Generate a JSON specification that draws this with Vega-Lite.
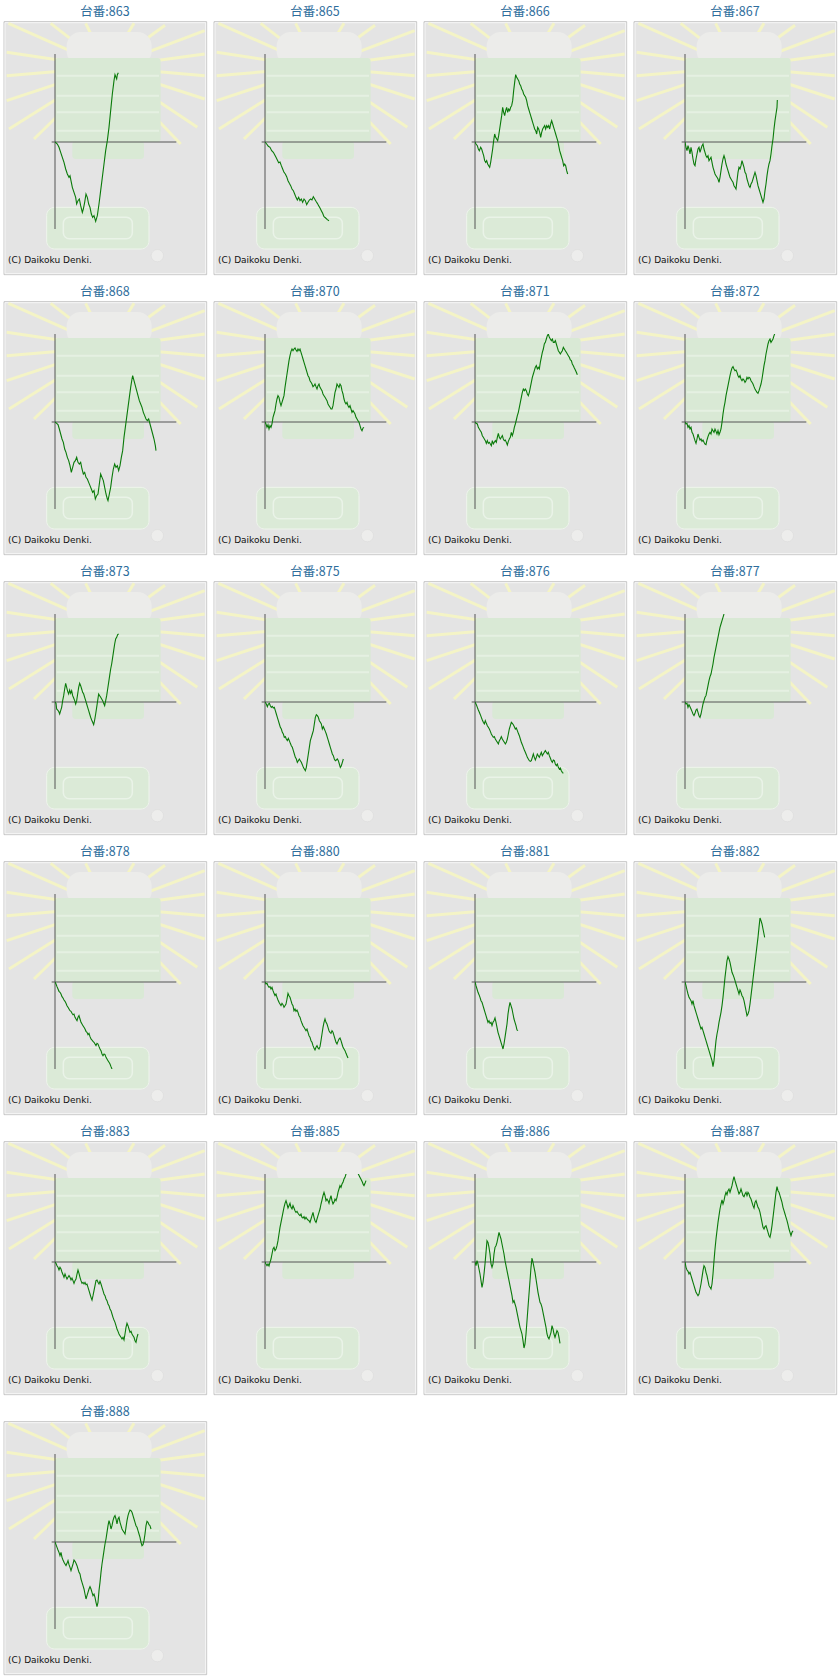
{
"$schema":"https://vega.github.io/schema/vega-lite/v6.json",
"padding":{"left":3,"top":5,"right":0,"bottom":0},
"background":"white",
"bounds":"flush",
"spacing":{"column":89,"row":105},
"columns":4,
"data":{"values":[
{"m":"863","x":0,"y":0},{"m":"863","x":7,"y":-6},{"m":"863","x":12,"y":-16},{"m":"863","x":17,"y":-31},{"m":"863","x":22,"y":-46},{"m":"863","x":27,"y":-61},{"m":"863","x":32,"y":-81},{"m":"863","x":37,"y":-96},{"m":"863","x":42,"y":-106},{"m":"863","x":45,"y":-101},{"m":"863","x":49,"y":-121},{"m":"863","x":52,"y":-136},{"m":"863","x":57,"y":-151},{"m":"863","x":62,"y":-166},{"m":"863","x":65,"y":-186},{"m":"863","x":69,"y":-176},{"m":"863","x":73,"y":-171},{"m":"863","x":77,"y":-191},{"m":"863","x":82,"y":-211},{"m":"863","x":85,"y":-201},{"m":"863","x":89,"y":-181},{"m":"863","x":93,"y":-156},{"m":"863","x":97,"y":-166},{"m":"863","x":101,"y":-186},{"m":"863","x":105,"y":-196},{"m":"863","x":109,"y":-216},{"m":"863","x":113,"y":-226},{"m":"863","x":117,"y":-221},{"m":"863","x":122,"y":-238},{"m":"863","x":127,"y":-221},{"m":"863","x":132,"y":-186},{"m":"863","x":137,"y":-146},{"m":"863","x":142,"y":-106},{"m":"863","x":147,"y":-66},{"m":"863","x":152,"y":-26},{"m":"863","x":157,"y":4},{"m":"863","x":162,"y":44},{"m":"863","x":167,"y":94},{"m":"863","x":172,"y":144},{"m":"863","x":177,"y":184},{"m":"863","x":180,"y":202},{"m":"863","x":183,"y":194},{"m":"863","x":185,"y":189},{"m":"863","x":187,"y":202},{"m":"863","x":190,"y":208},
{"m":"865","x":0,"y":0},{"m":"865","x":5,"y":-6},{"m":"865","x":10,"y":-13},{"m":"865","x":15,"y":-16},{"m":"865","x":20,"y":-26},{"m":"865","x":25,"y":-31},{"m":"865","x":29,"y":-38},{"m":"865","x":33,"y":-46},{"m":"865","x":37,"y":-54},{"m":"865","x":41,"y":-62},{"m":"865","x":45,"y":-60},{"m":"865","x":49,"y":-71},{"m":"865","x":53,"y":-81},{"m":"865","x":57,"y":-91},{"m":"865","x":61,"y":-96},{"m":"865","x":65,"y":-104},{"m":"865","x":69,"y":-116},{"m":"865","x":73,"y":-124},{"m":"865","x":77,"y":-131},{"m":"865","x":81,"y":-141},{"m":"865","x":85,"y":-146},{"m":"865","x":89,"y":-156},{"m":"865","x":93,"y":-166},{"m":"865","x":97,"y":-174},{"m":"865","x":101,"y":-166},{"m":"865","x":105,"y":-176},{"m":"865","x":109,"y":-171},{"m":"865","x":113,"y":-181},{"m":"865","x":117,"y":-171},{"m":"865","x":121,"y":-176},{"m":"865","x":125,"y":-188},{"m":"865","x":129,"y":-181},{"m":"865","x":133,"y":-174},{"m":"865","x":137,"y":-171},{"m":"865","x":141,"y":-174},{"m":"865","x":145,"y":-164},{"m":"865","x":149,"y":-171},{"m":"865","x":153,"y":-178},{"m":"865","x":157,"y":-184},{"m":"865","x":161,"y":-191},{"m":"865","x":165,"y":-198},{"m":"865","x":169,"y":-206},{"m":"865","x":173,"y":-214},{"m":"865","x":177,"y":-224},{"m":"865","x":182,"y":-228},{"m":"865","x":187,"y":-233},{"m":"865","x":192,"y":-236},
{"m":"866","x":0,"y":0},{"m":"866","x":3,"y":-6},{"m":"866","x":7,"y":-11},{"m":"866","x":10,"y":-21},{"m":"866","x":13,"y":-26},{"m":"866","x":17,"y":-16},{"m":"866","x":20,"y":-21},{"m":"866","x":23,"y":-31},{"m":"866","x":26,"y":-41},{"m":"866","x":29,"y":-56},{"m":"866","x":32,"y":-61},{"m":"866","x":35,"y":-56},{"m":"866","x":38,"y":-66},{"m":"866","x":41,"y":-71},{"m":"866","x":44,"y":-76},{"m":"866","x":47,"y":-61},{"m":"866","x":50,"y":-41},{"m":"866","x":53,"y":-21},{"m":"866","x":56,"y":4},{"m":"866","x":59,"y":24},{"m":"866","x":62,"y":14},{"m":"866","x":65,"y":9},{"m":"866","x":68,"y":4},{"m":"866","x":71,"y":19},{"m":"866","x":74,"y":39},{"m":"866","x":77,"y":59},{"m":"866","x":80,"y":79},{"m":"866","x":83,"y":104},{"m":"866","x":86,"y":89},{"m":"866","x":89,"y":79},{"m":"866","x":92,"y":94},{"m":"866","x":95,"y":104},{"m":"866","x":98,"y":89},{"m":"866","x":101,"y":99},{"m":"866","x":104,"y":94},{"m":"866","x":107,"y":104},{"m":"866","x":110,"y":109},{"m":"866","x":113,"y":124},{"m":"866","x":116,"y":154},{"m":"866","x":119,"y":179},{"m":"866","x":122,"y":202},{"m":"866","x":125,"y":194},{"m":"866","x":128,"y":189},{"m":"866","x":131,"y":184},{"m":"866","x":134,"y":174},{"m":"866","x":137,"y":169},{"m":"866","x":140,"y":159},{"m":"866","x":143,"y":154},{"m":"866","x":146,"y":144},{"m":"866","x":149,"y":139},{"m":"866","x":152,"y":134},{"m":"866","x":155,"y":124},{"m":"866","x":158,"y":109},{"m":"866","x":161,"y":99},{"m":"866","x":164,"y":89},{"m":"866","x":167,"y":79},{"m":"866","x":170,"y":69},{"m":"866","x":173,"y":59},{"m":"866","x":176,"y":49},{"m":"866","x":179,"y":39},{"m":"866","x":182,"y":34},{"m":"866","x":185,"y":24},{"m":"866","x":188,"y":44},{"m":"866","x":191,"y":39},{"m":"866","x":194,"y":29},{"m":"866","x":197,"y":14},{"m":"866","x":200,"y":29},{"m":"866","x":203,"y":39},{"m":"866","x":206,"y":44},{"m":"866","x":209,"y":49},{"m":"866","x":212,"y":39},{"m":"866","x":215,"y":49},{"m":"866","x":218,"y":44},{"m":"866","x":221,"y":49},{"m":"866","x":224,"y":39},{"m":"866","x":227,"y":54},{"m":"866","x":230,"y":64},{"m":"866","x":233,"y":54},{"m":"866","x":236,"y":44},{"m":"866","x":239,"y":34},{"m":"866","x":242,"y":24},{"m":"866","x":245,"y":14},{"m":"866","x":248,"y":4},{"m":"866","x":251,"y":-11},{"m":"866","x":254,"y":-26},{"m":"866","x":257,"y":-36},{"m":"866","x":260,"y":-46},{"m":"866","x":263,"y":-56},{"m":"866","x":266,"y":-71},{"m":"866","x":269,"y":-66},{"m":"866","x":272,"y":-71},{"m":"866","x":275,"y":-86},{"m":"866","x":278,"y":-96},
{"m":"867","x":0,"y":0},{"m":"867","x":3,"y":-16},{"m":"867","x":6,"y":-26},{"m":"867","x":9,"y":-11},{"m":"867","x":12,"y":-21},{"m":"867","x":15,"y":-36},{"m":"867","x":18,"y":-16},{"m":"867","x":21,"y":-31},{"m":"867","x":24,"y":-51},{"m":"867","x":27,"y":-66},{"m":"867","x":30,"y":-71},{"m":"867","x":33,"y":-51},{"m":"867","x":36,"y":-36},{"m":"867","x":39,"y":-21},{"m":"867","x":42,"y":-16},{"m":"867","x":45,"y":-31},{"m":"867","x":48,"y":-21},{"m":"867","x":51,"y":-11},{"m":"867","x":54,"y":-6},{"m":"867","x":57,"y":-21},{"m":"867","x":60,"y":-31},{"m":"867","x":63,"y":-41},{"m":"867","x":66,"y":-46},{"m":"867","x":69,"y":-41},{"m":"867","x":72,"y":-56},{"m":"867","x":75,"y":-51},{"m":"867","x":78,"y":-46},{"m":"867","x":81,"y":-61},{"m":"867","x":84,"y":-76},{"m":"867","x":87,"y":-86},{"m":"867","x":90,"y":-96},{"m":"867","x":93,"y":-101},{"m":"867","x":96,"y":-106},{"m":"867","x":99,"y":-111},{"m":"867","x":102,"y":-121},{"m":"867","x":105,"y":-106},{"m":"867","x":108,"y":-86},{"m":"867","x":111,"y":-66},{"m":"867","x":114,"y":-51},{"m":"867","x":117,"y":-41},{"m":"867","x":120,"y":-51},{"m":"867","x":123,"y":-66},{"m":"867","x":126,"y":-76},{"m":"867","x":129,"y":-86},{"m":"867","x":132,"y":-96},{"m":"867","x":135,"y":-106},{"m":"867","x":138,"y":-111},{"m":"867","x":141,"y":-116},{"m":"867","x":144,"y":-121},{"m":"867","x":147,"y":-131},{"m":"867","x":150,"y":-136},{"m":"867","x":153,"y":-141},{"m":"867","x":156,"y":-116},{"m":"867","x":159,"y":-91},{"m":"867","x":162,"y":-76},{"m":"867","x":165,"y":-81},{"m":"867","x":168,"y":-71},{"m":"867","x":171,"y":-56},{"m":"867","x":174,"y":-66},{"m":"867","x":177,"y":-76},{"m":"867","x":180,"y":-91},{"m":"867","x":183,"y":-96},{"m":"867","x":186,"y":-111},{"m":"867","x":189,"y":-121},{"m":"867","x":192,"y":-131},{"m":"867","x":195,"y":-136},{"m":"867","x":198,"y":-126},{"m":"867","x":201,"y":-121},{"m":"867","x":204,"y":-111},{"m":"867","x":207,"y":-101},{"m":"867","x":210,"y":-91},{"m":"867","x":213,"y":-101},{"m":"867","x":216,"y":-116},{"m":"867","x":219,"y":-131},{"m":"867","x":222,"y":-141},{"m":"867","x":225,"y":-151},{"m":"867","x":228,"y":-161},{"m":"867","x":231,"y":-171},{"m":"867","x":234,"y":-181},{"m":"867","x":237,"y":-171},{"m":"867","x":240,"y":-146},{"m":"867","x":243,"y":-126},{"m":"867","x":246,"y":-101},{"m":"867","x":249,"y":-81},{"m":"867","x":252,"y":-66},{"m":"867","x":255,"y":-56},{"m":"867","x":258,"y":-36},{"m":"867","x":261,"y":-11},{"m":"867","x":264,"y":9},{"m":"867","x":267,"y":39},{"m":"867","x":270,"y":64},{"m":"867","x":273,"y":84},{"m":"867","x":276,"y":104},{"m":"867","x":277,"y":126},
{"m":"868","x":0,"y":0},{"m":"868","x":5,"y":-4},{"m":"868","x":9,"y":-8},{"m":"868","x":13,"y":-21},{"m":"868","x":17,"y":-36},{"m":"868","x":21,"y":-51},{"m":"868","x":25,"y":-61},{"m":"868","x":29,"y":-81},{"m":"868","x":33,"y":-91},{"m":"868","x":37,"y":-106},{"m":"868","x":41,"y":-116},{"m":"868","x":45,"y":-131},{"m":"868","x":49,"y":-151},{"m":"868","x":53,"y":-136},{"m":"868","x":57,"y":-121},{"m":"868","x":61,"y":-116},{"m":"868","x":65,"y":-106},{"m":"868","x":69,"y":-121},{"m":"868","x":73,"y":-126},{"m":"868","x":77,"y":-121},{"m":"868","x":81,"y":-141},{"m":"868","x":85,"y":-156},{"m":"868","x":89,"y":-151},{"m":"868","x":93,"y":-166},{"m":"868","x":97,"y":-171},{"m":"868","x":101,"y":-181},{"m":"868","x":105,"y":-191},{"m":"868","x":109,"y":-201},{"m":"868","x":113,"y":-211},{"m":"868","x":117,"y":-206},{"m":"868","x":121,"y":-231},{"m":"868","x":125,"y":-221},{"m":"868","x":129,"y":-216},{"m":"868","x":133,"y":-186},{"m":"868","x":137,"y":-156},{"m":"868","x":141,"y":-166},{"m":"868","x":145,"y":-176},{"m":"868","x":149,"y":-196},{"m":"868","x":153,"y":-216},{"m":"868","x":157,"y":-231},{"m":"868","x":159,"y":-236},{"m":"868","x":163,"y":-216},{"m":"868","x":167,"y":-196},{"m":"868","x":171,"y":-166},{"m":"868","x":175,"y":-141},{"m":"868","x":179,"y":-126},{"m":"868","x":183,"y":-136},{"m":"868","x":187,"y":-131},{"m":"868","x":191,"y":-146},{"m":"868","x":195,"y":-131},{"m":"868","x":199,"y":-106},{"m":"868","x":203,"y":-86},{"m":"868","x":207,"y":-46},{"m":"868","x":211,"y":-16},{"m":"868","x":215,"y":14},{"m":"868","x":219,"y":44},{"m":"868","x":223,"y":74},{"m":"868","x":227,"y":104},{"m":"868","x":231,"y":129},{"m":"868","x":233,"y":139},{"m":"868","x":237,"y":124},{"m":"868","x":241,"y":109},{"m":"868","x":245,"y":94},{"m":"868","x":249,"y":79},{"m":"868","x":253,"y":64},{"m":"868","x":257,"y":54},{"m":"868","x":261,"y":44},{"m":"868","x":265,"y":29},{"m":"868","x":269,"y":19},{"m":"868","x":273,"y":9},{"m":"868","x":277,"y":4},{"m":"868","x":281,"y":9},{"m":"868","x":285,"y":-6},{"m":"868","x":289,"y":-21},{"m":"868","x":293,"y":-36},{"m":"868","x":297,"y":-51},{"m":"868","x":301,"y":-71},{"m":"868","x":303,"y":-86},
{"m":"870","x":0,"y":0},{"m":"870","x":3,"y":-6},{"m":"870","x":6,"y":-16},{"m":"870","x":9,"y":-8},{"m":"870","x":12,"y":-21},{"m":"870","x":15,"y":-11},{"m":"870","x":18,"y":-16},{"m":"870","x":21,"y":-6},{"m":"870","x":24,"y":14},{"m":"870","x":27,"y":24},{"m":"870","x":30,"y":34},{"m":"870","x":33,"y":54},{"m":"870","x":36,"y":69},{"m":"870","x":39,"y":79},{"m":"870","x":42,"y":74},{"m":"870","x":45,"y":59},{"m":"870","x":48,"y":49},{"m":"870","x":51,"y":59},{"m":"870","x":54,"y":69},{"m":"870","x":57,"y":79},{"m":"870","x":60,"y":104},{"m":"870","x":63,"y":124},{"m":"870","x":66,"y":144},{"m":"870","x":69,"y":164},{"m":"870","x":72,"y":184},{"m":"870","x":75,"y":199},{"m":"870","x":78,"y":212},{"m":"870","x":81,"y":219},{"m":"870","x":84,"y":214},{"m":"870","x":87,"y":219},{"m":"870","x":90,"y":222},{"m":"870","x":93,"y":216},{"m":"870","x":96,"y":212},{"m":"870","x":99,"y":219},{"m":"870","x":102,"y":214},{"m":"870","x":105,"y":219},{"m":"870","x":108,"y":209},{"m":"870","x":111,"y":199},{"m":"870","x":114,"y":189},{"m":"870","x":117,"y":179},{"m":"870","x":120,"y":169},{"m":"870","x":123,"y":159},{"m":"870","x":126,"y":149},{"m":"870","x":129,"y":139},{"m":"870","x":132,"y":134},{"m":"870","x":135,"y":124},{"m":"870","x":138,"y":119},{"m":"870","x":141,"y":114},{"m":"870","x":144,"y":106},{"m":"870","x":147,"y":109},{"m":"870","x":150,"y":114},{"m":"870","x":153,"y":106},{"m":"870","x":156,"y":99},{"m":"870","x":159,"y":109},{"m":"870","x":162,"y":114},{"m":"870","x":165,"y":104},{"m":"870","x":168,"y":99},{"m":"870","x":171,"y":94},{"m":"870","x":174,"y":84},{"m":"870","x":177,"y":79},{"m":"870","x":180,"y":74},{"m":"870","x":183,"y":69},{"m":"870","x":186,"y":64},{"m":"870","x":189,"y":54},{"m":"870","x":192,"y":49},{"m":"870","x":195,"y":44},{"m":"870","x":198,"y":39},{"m":"870","x":201,"y":39},{"m":"870","x":204,"y":49},{"m":"870","x":207,"y":69},{"m":"870","x":210,"y":89},{"m":"870","x":213,"y":99},{"m":"870","x":216,"y":114},{"m":"870","x":219,"y":109},{"m":"870","x":222,"y":104},{"m":"870","x":225,"y":114},{"m":"870","x":228,"y":109},{"m":"870","x":231,"y":94},{"m":"870","x":234,"y":84},{"m":"870","x":237,"y":69},{"m":"870","x":240,"y":59},{"m":"870","x":243,"y":54},{"m":"870","x":246,"y":59},{"m":"870","x":249,"y":49},{"m":"870","x":252,"y":44},{"m":"870","x":255,"y":49},{"m":"870","x":258,"y":39},{"m":"870","x":261,"y":29},{"m":"870","x":264,"y":34},{"m":"870","x":267,"y":29},{"m":"870","x":270,"y":24},{"m":"870","x":273,"y":14},{"m":"870","x":276,"y":9},{"m":"870","x":279,"y":4},{"m":"870","x":282,"y":-1},{"m":"870","x":285,"y":-11},{"m":"870","x":288,"y":-21},{"m":"870","x":291,"y":-26},{"m":"870","x":294,"y":-18},{"m":"870","x":297,"y":-16},
{"m":"871","x":0,"y":0},{"m":"871","x":3,"y":-4},{"m":"871","x":7,"y":-6},{"m":"871","x":10,"y":-16},{"m":"871","x":13,"y":-21},{"m":"871","x":16,"y":-26},{"m":"871","x":19,"y":-31},{"m":"871","x":22,"y":-41},{"m":"871","x":25,"y":-46},{"m":"871","x":28,"y":-51},{"m":"871","x":31,"y":-56},{"m":"871","x":34,"y":-64},{"m":"871","x":37,"y":-56},{"m":"871","x":40,"y":-64},{"m":"871","x":43,"y":-61},{"m":"871","x":46,"y":-66},{"m":"871","x":49,"y":-71},{"m":"871","x":52,"y":-56},{"m":"871","x":55,"y":-66},{"m":"871","x":58,"y":-61},{"m":"871","x":61,"y":-56},{"m":"871","x":64,"y":-61},{"m":"871","x":67,"y":-46},{"m":"871","x":70,"y":-34},{"m":"871","x":73,"y":-46},{"m":"871","x":76,"y":-51},{"m":"871","x":79,"y":-46},{"m":"871","x":82,"y":-41},{"m":"871","x":85,"y":-51},{"m":"871","x":88,"y":-56},{"m":"871","x":91,"y":-54},{"m":"871","x":94,"y":-61},{"m":"871","x":97,"y":-69},{"m":"871","x":100,"y":-58},{"m":"871","x":103,"y":-51},{"m":"871","x":106,"y":-46},{"m":"871","x":109,"y":-31},{"m":"871","x":112,"y":-41},{"m":"871","x":115,"y":-31},{"m":"871","x":118,"y":-16},{"m":"871","x":121,"y":-6},{"m":"871","x":124,"y":6},{"m":"871","x":127,"y":19},{"m":"871","x":130,"y":29},{"m":"871","x":133,"y":44},{"m":"871","x":136,"y":59},{"m":"871","x":139,"y":74},{"m":"871","x":142,"y":89},{"m":"871","x":145,"y":99},{"m":"871","x":148,"y":94},{"m":"871","x":151,"y":99},{"m":"871","x":154,"y":94},{"m":"871","x":157,"y":84},{"m":"871","x":160,"y":79},{"m":"871","x":163,"y":89},{"m":"871","x":166,"y":104},{"m":"871","x":169,"y":119},{"m":"871","x":172,"y":134},{"m":"871","x":175,"y":144},{"m":"871","x":178,"y":154},{"m":"871","x":181,"y":164},{"m":"871","x":184,"y":169},{"m":"871","x":187,"y":159},{"m":"871","x":190,"y":164},{"m":"871","x":193,"y":159},{"m":"871","x":196,"y":179},{"m":"871","x":199,"y":194},{"m":"871","x":202,"y":209},{"m":"871","x":205,"y":219},{"m":"871","x":208,"y":234},{"m":"871","x":211,"y":239},{"m":"871","x":214,"y":249},{"m":"871","x":217,"y":259},{"m":"871","x":220,"y":264},{"m":"871","x":223,"y":254},{"m":"871","x":226,"y":249},{"m":"871","x":229,"y":244},{"m":"871","x":232,"y":249},{"m":"871","x":235,"y":239},{"m":"871","x":238,"y":239},{"m":"871","x":241,"y":244},{"m":"871","x":244,"y":234},{"m":"871","x":247,"y":224},{"m":"871","x":250,"y":214},{"m":"871","x":253,"y":209},{"m":"871","x":256,"y":204},{"m":"871","x":259,"y":209},{"m":"871","x":262,"y":214},{"m":"871","x":265,"y":224},{"m":"871","x":268,"y":219},{"m":"871","x":271,"y":214},{"m":"871","x":274,"y":209},{"m":"871","x":277,"y":204},{"m":"871","x":280,"y":199},{"m":"871","x":283,"y":194},{"m":"871","x":286,"y":186},{"m":"871","x":289,"y":184},{"m":"871","x":292,"y":174},{"m":"871","x":295,"y":169},{"m":"871","x":298,"y":162},{"m":"871","x":301,"y":156},{"m":"871","x":304,"y":149},{"m":"871","x":307,"y":142},
{"m":"872","x":0,"y":0},{"m":"872","x":3,"y":-6},{"m":"872","x":6,"y":-4},{"m":"872","x":9,"y":-16},{"m":"872","x":12,"y":-11},{"m":"872","x":15,"y":-21},{"m":"872","x":18,"y":-16},{"m":"872","x":21,"y":-31},{"m":"872","x":24,"y":-36},{"m":"872","x":27,"y":-46},{"m":"872","x":30,"y":-56},{"m":"872","x":33,"y":-64},{"m":"872","x":36,"y":-51},{"m":"872","x":39,"y":-36},{"m":"872","x":42,"y":-46},{"m":"872","x":45,"y":-54},{"m":"872","x":48,"y":-51},{"m":"872","x":51,"y":-58},{"m":"872","x":54,"y":-54},{"m":"872","x":57,"y":-61},{"m":"872","x":60,"y":-66},{"m":"872","x":63,"y":-68},{"m":"872","x":66,"y":-54},{"m":"872","x":69,"y":-44},{"m":"872","x":72,"y":-36},{"m":"872","x":75,"y":-31},{"m":"872","x":78,"y":-36},{"m":"872","x":81,"y":-21},{"m":"872","x":84,"y":-26},{"m":"872","x":87,"y":-31},{"m":"872","x":90,"y":-21},{"m":"872","x":93,"y":-28},{"m":"872","x":96,"y":-36},{"m":"872","x":99,"y":-26},{"m":"872","x":102,"y":-38},{"m":"872","x":105,"y":-31},{"m":"872","x":108,"y":-21},{"m":"872","x":111,"y":-1},{"m":"872","x":114,"y":24},{"m":"872","x":117,"y":44},{"m":"872","x":120,"y":59},{"m":"872","x":123,"y":79},{"m":"872","x":126,"y":94},{"m":"872","x":129,"y":109},{"m":"872","x":132,"y":124},{"m":"872","x":135,"y":139},{"m":"872","x":138,"y":152},{"m":"872","x":141,"y":162},{"m":"872","x":144,"y":166},{"m":"872","x":147,"y":159},{"m":"872","x":150,"y":154},{"m":"872","x":153,"y":156},{"m":"872","x":156,"y":149},{"m":"872","x":159,"y":139},{"m":"872","x":162,"y":134},{"m":"872","x":165,"y":139},{"m":"872","x":168,"y":129},{"m":"872","x":171,"y":124},{"m":"872","x":174,"y":129},{"m":"872","x":177,"y":126},{"m":"872","x":180,"y":119},{"m":"872","x":183,"y":124},{"m":"872","x":186,"y":134},{"m":"872","x":189,"y":129},{"m":"872","x":192,"y":134},{"m":"872","x":195,"y":132},{"m":"872","x":198,"y":124},{"m":"872","x":201,"y":119},{"m":"872","x":204,"y":114},{"m":"872","x":207,"y":106},{"m":"872","x":210,"y":99},{"m":"872","x":213,"y":94},{"m":"872","x":216,"y":89},{"m":"872","x":219,"y":86},{"m":"872","x":222,"y":94},{"m":"872","x":225,"y":104},{"m":"872","x":228,"y":114},{"m":"872","x":231,"y":129},{"m":"872","x":234,"y":149},{"m":"872","x":237,"y":169},{"m":"872","x":240,"y":184},{"m":"872","x":243,"y":204},{"m":"872","x":246,"y":219},{"m":"872","x":249,"y":234},{"m":"872","x":252,"y":244},{"m":"872","x":255,"y":249},{"m":"872","x":258,"y":239},{"m":"872","x":261,"y":244},{"m":"872","x":264,"y":249},{"m":"872","x":267,"y":259},{"m":"872","x":269,"y":264},
{"m":"873","x":0,"y":0},{"m":"873","x":3,"y":-4},{"m":"873","x":5,"y":-21},{"m":"873","x":8,"y":-24},{"m":"873","x":11,"y":-28},{"m":"873","x":14,"y":-36},{"m":"873","x":17,"y":-26},{"m":"873","x":20,"y":-16},{"m":"873","x":23,"y":4},{"m":"873","x":26,"y":19},{"m":"873","x":29,"y":39},{"m":"873","x":32,"y":56},{"m":"873","x":35,"y":44},{"m":"873","x":38,"y":32},{"m":"873","x":41,"y":24},{"m":"873","x":44,"y":36},{"m":"873","x":47,"y":26},{"m":"873","x":50,"y":34},{"m":"873","x":53,"y":19},{"m":"873","x":56,"y":12},{"m":"873","x":59,"y":4},{"m":"873","x":62,"y":-6},{"m":"873","x":65,"y":4},{"m":"873","x":68,"y":24},{"m":"873","x":71,"y":44},{"m":"873","x":74,"y":56},{"m":"873","x":77,"y":49},{"m":"873","x":80,"y":39},{"m":"873","x":83,"y":29},{"m":"873","x":86,"y":24},{"m":"873","x":89,"y":14},{"m":"873","x":92,"y":4},{"m":"873","x":95,"y":-6},{"m":"873","x":98,"y":-16},{"m":"873","x":101,"y":-26},{"m":"873","x":104,"y":-36},{"m":"873","x":107,"y":-46},{"m":"873","x":110,"y":-54},{"m":"873","x":113,"y":-61},{"m":"873","x":116,"y":-68},{"m":"873","x":119,"y":-54},{"m":"873","x":122,"y":-36},{"m":"873","x":125,"y":-16},{"m":"873","x":128,"y":4},{"m":"873","x":131,"y":24},{"m":"873","x":134,"y":19},{"m":"873","x":137,"y":14},{"m":"873","x":140,"y":9},{"m":"873","x":143,"y":4},{"m":"873","x":146,"y":-4},{"m":"873","x":149,"y":-11},{"m":"873","x":152,"y":4},{"m":"873","x":155,"y":19},{"m":"873","x":158,"y":39},{"m":"873","x":161,"y":59},{"m":"873","x":164,"y":79},{"m":"873","x":167,"y":99},{"m":"873","x":170,"y":114},{"m":"873","x":173,"y":134},{"m":"873","x":176,"y":154},{"m":"873","x":179,"y":174},{"m":"873","x":182,"y":189},{"m":"873","x":185,"y":194},{"m":"873","x":188,"y":202},{"m":"873","x":191,"y":204},
{"m":"875","x":0,"y":0},{"m":"875","x":4,"y":-6},{"m":"875","x":7,"y":-14},{"m":"875","x":10,"y":-6},{"m":"875","x":13,"y":-4},{"m":"875","x":16,"y":-11},{"m":"875","x":19,"y":-16},{"m":"875","x":22,"y":-13},{"m":"875","x":25,"y":-18},{"m":"875","x":28,"y":-16},{"m":"875","x":31,"y":-26},{"m":"875","x":34,"y":-36},{"m":"875","x":37,"y":-46},{"m":"875","x":40,"y":-56},{"m":"875","x":43,"y":-66},{"m":"875","x":46,"y":-76},{"m":"875","x":49,"y":-81},{"m":"875","x":52,"y":-91},{"m":"875","x":55,"y":-96},{"m":"875","x":58,"y":-106},{"m":"875","x":61,"y":-104},{"m":"875","x":64,"y":-111},{"m":"875","x":67,"y":-116},{"m":"875","x":70,"y":-109},{"m":"875","x":73,"y":-116},{"m":"875","x":76,"y":-124},{"m":"875","x":79,"y":-131},{"m":"875","x":82,"y":-136},{"m":"875","x":85,"y":-146},{"m":"875","x":88,"y":-156},{"m":"875","x":91,"y":-166},{"m":"875","x":94,"y":-171},{"m":"875","x":97,"y":-181},{"m":"875","x":100,"y":-176},{"m":"875","x":103,"y":-171},{"m":"875","x":106,"y":-176},{"m":"875","x":109,"y":-181},{"m":"875","x":112,"y":-188},{"m":"875","x":115,"y":-196},{"m":"875","x":118,"y":-201},{"m":"875","x":121,"y":-206},{"m":"875","x":124,"y":-196},{"m":"875","x":127,"y":-176},{"m":"875","x":130,"y":-156},{"m":"875","x":133,"y":-136},{"m":"875","x":136,"y":-116},{"m":"875","x":139,"y":-106},{"m":"875","x":142,"y":-96},{"m":"875","x":145,"y":-86},{"m":"875","x":148,"y":-66},{"m":"875","x":151,"y":-46},{"m":"875","x":154,"y":-38},{"m":"875","x":157,"y":-41},{"m":"875","x":160,"y":-46},{"m":"875","x":163,"y":-56},{"m":"875","x":166,"y":-61},{"m":"875","x":169,"y":-66},{"m":"875","x":172,"y":-81},{"m":"875","x":175,"y":-74},{"m":"875","x":178,"y":-81},{"m":"875","x":181,"y":-88},{"m":"875","x":184,"y":-96},{"m":"875","x":187,"y":-106},{"m":"875","x":190,"y":-116},{"m":"875","x":193,"y":-126},{"m":"875","x":196,"y":-136},{"m":"875","x":199,"y":-146},{"m":"875","x":202,"y":-156},{"m":"875","x":205,"y":-161},{"m":"875","x":208,"y":-171},{"m":"875","x":211,"y":-176},{"m":"875","x":214,"y":-174},{"m":"875","x":217,"y":-171},{"m":"875","x":220,"y":-176},{"m":"875","x":223,"y":-186},{"m":"875","x":226,"y":-196},{"m":"875","x":229,"y":-191},{"m":"875","x":232,"y":-181},{"m":"875","x":235,"y":-171},
{"m":"876","x":0,"y":0},{"m":"876","x":4,"y":-8},{"m":"876","x":7,"y":-16},{"m":"876","x":10,"y":-24},{"m":"876","x":13,"y":-31},{"m":"876","x":16,"y":-38},{"m":"876","x":19,"y":-46},{"m":"876","x":22,"y":-54},{"m":"876","x":25,"y":-61},{"m":"876","x":28,"y":-66},{"m":"876","x":31,"y":-56},{"m":"876","x":34,"y":-64},{"m":"876","x":37,"y":-71},{"m":"876","x":40,"y":-76},{"m":"876","x":43,"y":-81},{"m":"876","x":46,"y":-88},{"m":"876","x":49,"y":-96},{"m":"876","x":52,"y":-101},{"m":"876","x":55,"y":-106},{"m":"876","x":58,"y":-104},{"m":"876","x":61,"y":-111},{"m":"876","x":64,"y":-116},{"m":"876","x":67,"y":-121},{"m":"876","x":70,"y":-126},{"m":"876","x":73,"y":-116},{"m":"876","x":76,"y":-111},{"m":"876","x":79,"y":-104},{"m":"876","x":82,"y":-111},{"m":"876","x":85,"y":-116},{"m":"876","x":88,"y":-121},{"m":"876","x":91,"y":-126},{"m":"876","x":94,"y":-121},{"m":"876","x":97,"y":-111},{"m":"876","x":100,"y":-96},{"m":"876","x":103,"y":-81},{"m":"876","x":106,"y":-71},{"m":"876","x":109,"y":-61},{"m":"876","x":112,"y":-64},{"m":"876","x":115,"y":-68},{"m":"876","x":118,"y":-74},{"m":"876","x":121,"y":-81},{"m":"876","x":124,"y":-78},{"m":"876","x":127,"y":-86},{"m":"876","x":130,"y":-94},{"m":"876","x":133,"y":-101},{"m":"876","x":136,"y":-111},{"m":"876","x":139,"y":-121},{"m":"876","x":142,"y":-128},{"m":"876","x":145,"y":-136},{"m":"876","x":148,"y":-144},{"m":"876","x":151,"y":-151},{"m":"876","x":154,"y":-158},{"m":"876","x":157,"y":-166},{"m":"876","x":160,"y":-171},{"m":"876","x":163,"y":-176},{"m":"876","x":166,"y":-178},{"m":"876","x":169,"y":-176},{"m":"876","x":172,"y":-166},{"m":"876","x":175,"y":-156},{"m":"876","x":178,"y":-166},{"m":"876","x":181,"y":-174},{"m":"876","x":184,"y":-166},{"m":"876","x":187,"y":-156},{"m":"876","x":190,"y":-161},{"m":"876","x":193,"y":-166},{"m":"876","x":196,"y":-158},{"m":"876","x":199,"y":-151},{"m":"876","x":202,"y":-161},{"m":"876","x":205,"y":-156},{"m":"876","x":208,"y":-151},{"m":"876","x":211,"y":-146},{"m":"876","x":214,"y":-151},{"m":"876","x":217,"y":-156},{"m":"876","x":220,"y":-151},{"m":"876","x":223,"y":-161},{"m":"876","x":226,"y":-168},{"m":"876","x":229,"y":-176},{"m":"876","x":232,"y":-181},{"m":"876","x":235,"y":-174},{"m":"876","x":238,"y":-176},{"m":"876","x":241,"y":-186},{"m":"876","x":244,"y":-191},{"m":"876","x":247,"y":-186},{"m":"876","x":250,"y":-196},{"m":"876","x":253,"y":-201},{"m":"876","x":256,"y":-198},{"m":"876","x":259,"y":-206},{"m":"876","x":262,"y":-211},{"m":"876","x":265,"y":-214},
{"m":"877","x":0,"y":0},{"m":"877","x":3,"y":-6},{"m":"877","x":6,"y":-4},{"m":"877","x":9,"y":-16},{"m":"877","x":12,"y":-8},{"m":"877","x":15,"y":-14},{"m":"877","x":18,"y":-21},{"m":"877","x":21,"y":-28},{"m":"877","x":24,"y":-36},{"m":"877","x":27,"y":-41},{"m":"877","x":30,"y":-34},{"m":"877","x":33,"y":-24},{"m":"877","x":36,"y":-21},{"m":"877","x":39,"y":-31},{"m":"877","x":42,"y":-41},{"m":"877","x":45,"y":-46},{"m":"877","x":48,"y":-36},{"m":"877","x":51,"y":-21},{"m":"877","x":54,"y":-6},{"m":"877","x":57,"y":4},{"m":"877","x":60,"y":14},{"m":"877","x":63,"y":19},{"m":"877","x":66,"y":34},{"m":"877","x":69,"y":49},{"m":"877","x":72,"y":64},{"m":"877","x":75,"y":76},{"m":"877","x":78,"y":84},{"m":"877","x":81,"y":99},{"m":"877","x":84,"y":114},{"m":"877","x":87,"y":134},{"m":"877","x":90,"y":149},{"m":"877","x":93,"y":164},{"m":"877","x":96,"y":179},{"m":"877","x":99,"y":194},{"m":"877","x":102,"y":209},{"m":"877","x":105,"y":224},{"m":"877","x":108,"y":234},{"m":"877","x":111,"y":244},{"m":"877","x":114,"y":254},{"m":"877","x":117,"y":264},
{"m":"878","x":0,"y":0},{"m":"878","x":3,"y":-6},{"m":"878","x":6,"y":-14},{"m":"878","x":9,"y":-21},{"m":"878","x":12,"y":-28},{"m":"878","x":15,"y":-31},{"m":"878","x":18,"y":-36},{"m":"878","x":21,"y":-44},{"m":"878","x":24,"y":-48},{"m":"878","x":27,"y":-54},{"m":"878","x":30,"y":-58},{"m":"878","x":33,"y":-64},{"m":"878","x":36,"y":-71},{"m":"878","x":39,"y":-76},{"m":"878","x":42,"y":-81},{"m":"878","x":45,"y":-86},{"m":"878","x":48,"y":-88},{"m":"878","x":51,"y":-94},{"m":"878","x":54,"y":-98},{"m":"878","x":57,"y":-96},{"m":"878","x":60,"y":-106},{"m":"878","x":63,"y":-111},{"m":"878","x":66,"y":-116},{"m":"878","x":69,"y":-106},{"m":"878","x":72,"y":-101},{"m":"878","x":75,"y":-111},{"m":"878","x":78,"y":-121},{"m":"878","x":81,"y":-126},{"m":"878","x":84,"y":-131},{"m":"878","x":87,"y":-136},{"m":"878","x":90,"y":-141},{"m":"878","x":93,"y":-148},{"m":"878","x":96,"y":-151},{"m":"878","x":99,"y":-158},{"m":"878","x":102,"y":-154},{"m":"878","x":105,"y":-164},{"m":"878","x":108,"y":-171},{"m":"878","x":111,"y":-174},{"m":"878","x":114,"y":-178},{"m":"878","x":117,"y":-181},{"m":"878","x":120,"y":-186},{"m":"878","x":123,"y":-191},{"m":"878","x":126,"y":-184},{"m":"878","x":129,"y":-186},{"m":"878","x":132,"y":-194},{"m":"878","x":135,"y":-201},{"m":"878","x":138,"y":-206},{"m":"878","x":141,"y":-216},{"m":"878","x":144,"y":-221},{"m":"878","x":147,"y":-216},{"m":"878","x":150,"y":-218},{"m":"878","x":153,"y":-226},{"m":"878","x":156,"y":-231},{"m":"878","x":159,"y":-236},{"m":"878","x":162,"y":-241},{"m":"878","x":165,"y":-246},{"m":"878","x":168,"y":-254},{"m":"878","x":171,"y":-261},
{"m":"880","x":0,"y":0},{"m":"880","x":3,"y":-6},{"m":"880","x":6,"y":-4},{"m":"880","x":9,"y":-11},{"m":"880","x":12,"y":-16},{"m":"880","x":15,"y":-14},{"m":"880","x":18,"y":-21},{"m":"880","x":21,"y":-16},{"m":"880","x":24,"y":-26},{"m":"880","x":27,"y":-34},{"m":"880","x":30,"y":-41},{"m":"880","x":33,"y":-36},{"m":"880","x":36,"y":-46},{"m":"880","x":39,"y":-54},{"m":"880","x":42,"y":-61},{"m":"880","x":45,"y":-66},{"m":"880","x":48,"y":-71},{"m":"880","x":51,"y":-64},{"m":"880","x":54,"y":-68},{"m":"880","x":57,"y":-76},{"m":"880","x":60,"y":-71},{"m":"880","x":63,"y":-66},{"m":"880","x":66,"y":-51},{"m":"880","x":69,"y":-34},{"m":"880","x":72,"y":-41},{"m":"880","x":75,"y":-46},{"m":"880","x":78,"y":-56},{"m":"880","x":81,"y":-66},{"m":"880","x":84,"y":-71},{"m":"880","x":87,"y":-86},{"m":"880","x":90,"y":-81},{"m":"880","x":93,"y":-88},{"m":"880","x":96,"y":-84},{"m":"880","x":99,"y":-91},{"m":"880","x":102,"y":-101},{"m":"880","x":105,"y":-106},{"m":"880","x":108,"y":-116},{"m":"880","x":111,"y":-124},{"m":"880","x":114,"y":-131},{"m":"880","x":117,"y":-136},{"m":"880","x":120,"y":-141},{"m":"880","x":123,"y":-146},{"m":"880","x":126,"y":-141},{"m":"880","x":129,"y":-151},{"m":"880","x":132,"y":-161},{"m":"880","x":135,"y":-166},{"m":"880","x":138,"y":-176},{"m":"880","x":141,"y":-181},{"m":"880","x":144,"y":-191},{"m":"880","x":147,"y":-198},{"m":"880","x":150,"y":-204},{"m":"880","x":153,"y":-196},{"m":"880","x":156,"y":-191},{"m":"880","x":159,"y":-198},{"m":"880","x":162,"y":-201},{"m":"880","x":165,"y":-194},{"m":"880","x":168,"y":-176},{"m":"880","x":171,"y":-156},{"m":"880","x":174,"y":-136},{"m":"880","x":177,"y":-121},{"m":"880","x":180,"y":-111},{"m":"880","x":183,"y":-121},{"m":"880","x":186,"y":-126},{"m":"880","x":189,"y":-136},{"m":"880","x":192,"y":-146},{"m":"880","x":195,"y":-151},{"m":"880","x":198,"y":-154},{"m":"880","x":201,"y":-146},{"m":"880","x":204,"y":-151},{"m":"880","x":207,"y":-161},{"m":"880","x":210,"y":-171},{"m":"880","x":213,"y":-181},{"m":"880","x":216,"y":-186},{"m":"880","x":219,"y":-178},{"m":"880","x":222,"y":-171},{"m":"880","x":225,"y":-168},{"m":"880","x":228,"y":-176},{"m":"880","x":231,"y":-186},{"m":"880","x":234,"y":-196},{"m":"880","x":237,"y":-201},{"m":"880","x":240,"y":-206},{"m":"880","x":243,"y":-214},{"m":"880","x":246,"y":-221},{"m":"880","x":249,"y":-228},
{"m":"881","x":0,"y":0},{"m":"881","x":3,"y":-11},{"m":"881","x":6,"y":-21},{"m":"881","x":9,"y":-31},{"m":"881","x":12,"y":-38},{"m":"881","x":15,"y":-46},{"m":"881","x":18,"y":-56},{"m":"881","x":21,"y":-61},{"m":"881","x":24,"y":-71},{"m":"881","x":27,"y":-81},{"m":"881","x":30,"y":-91},{"m":"881","x":33,"y":-101},{"m":"881","x":36,"y":-111},{"m":"881","x":39,"y":-121},{"m":"881","x":42,"y":-116},{"m":"881","x":45,"y":-124},{"m":"881","x":48,"y":-121},{"m":"881","x":51,"y":-131},{"m":"881","x":54,"y":-121},{"m":"881","x":57,"y":-116},{"m":"881","x":60,"y":-108},{"m":"881","x":63,"y":-121},{"m":"881","x":66,"y":-136},{"m":"881","x":69,"y":-151},{"m":"881","x":72,"y":-161},{"m":"881","x":75,"y":-171},{"m":"881","x":78,"y":-181},{"m":"881","x":81,"y":-191},{"m":"881","x":84,"y":-201},{"m":"881","x":87,"y":-186},{"m":"881","x":90,"y":-166},{"m":"881","x":93,"y":-146},{"m":"881","x":96,"y":-126},{"m":"881","x":99,"y":-96},{"m":"881","x":102,"y":-76},{"m":"881","x":105,"y":-61},{"m":"881","x":108,"y":-71},{"m":"881","x":111,"y":-81},{"m":"881","x":114,"y":-96},{"m":"881","x":117,"y":-111},{"m":"881","x":120,"y":-121},{"m":"881","x":123,"y":-131},{"m":"881","x":126,"y":-144},{"m":"881","x":129,"y":-146},
{"m":"882","x":0,"y":0},{"m":"882","x":3,"y":-11},{"m":"882","x":6,"y":-24},{"m":"882","x":9,"y":-36},{"m":"882","x":12,"y":-46},{"m":"882","x":15,"y":-51},{"m":"882","x":18,"y":-56},{"m":"882","x":21,"y":-66},{"m":"882","x":24,"y":-56},{"m":"882","x":27,"y":-71},{"m":"882","x":30,"y":-81},{"m":"882","x":33,"y":-91},{"m":"882","x":36,"y":-101},{"m":"882","x":39,"y":-111},{"m":"882","x":42,"y":-121},{"m":"882","x":45,"y":-131},{"m":"882","x":48,"y":-141},{"m":"882","x":51,"y":-136},{"m":"882","x":54,"y":-146},{"m":"882","x":57,"y":-156},{"m":"882","x":60,"y":-166},{"m":"882","x":63,"y":-176},{"m":"882","x":66,"y":-186},{"m":"882","x":69,"y":-196},{"m":"882","x":72,"y":-206},{"m":"882","x":75,"y":-216},{"m":"882","x":78,"y":-226},{"m":"882","x":81,"y":-236},{"m":"882","x":84,"y":-254},{"m":"882","x":87,"y":-236},{"m":"882","x":90,"y":-206},{"m":"882","x":93,"y":-176},{"m":"882","x":96,"y":-156},{"m":"882","x":99,"y":-141},{"m":"882","x":102,"y":-121},{"m":"882","x":105,"y":-106},{"m":"882","x":108,"y":-91},{"m":"882","x":111,"y":-71},{"m":"882","x":114,"y":-46},{"m":"882","x":117,"y":-16},{"m":"882","x":120,"y":14},{"m":"882","x":123,"y":39},{"m":"882","x":126,"y":64},{"m":"882","x":129,"y":76},{"m":"882","x":132,"y":69},{"m":"882","x":135,"y":59},{"m":"882","x":138,"y":44},{"m":"882","x":141,"y":29},{"m":"882","x":144,"y":22},{"m":"882","x":147,"y":14},{"m":"882","x":150,"y":4},{"m":"882","x":153,"y":-6},{"m":"882","x":156,"y":-16},{"m":"882","x":159,"y":-26},{"m":"882","x":162,"y":-36},{"m":"882","x":165,"y":-24},{"m":"882","x":168,"y":-31},{"m":"882","x":171,"y":-41},{"m":"882","x":174,"y":-46},{"m":"882","x":177,"y":-56},{"m":"882","x":180,"y":-71},{"m":"882","x":183,"y":-86},{"m":"882","x":186,"y":-101},{"m":"882","x":189,"y":-96},{"m":"882","x":192,"y":-86},{"m":"882","x":195,"y":-66},{"m":"882","x":198,"y":-41},{"m":"882","x":201,"y":-16},{"m":"882","x":204,"y":9},{"m":"882","x":207,"y":34},{"m":"882","x":210,"y":59},{"m":"882","x":213,"y":84},{"m":"882","x":216,"y":109},{"m":"882","x":219,"y":134},{"m":"882","x":222,"y":164},{"m":"882","x":225,"y":192},{"m":"882","x":228,"y":184},{"m":"882","x":231,"y":174},{"m":"882","x":234,"y":159},{"m":"882","x":237,"y":144},{"m":"882","x":239,"y":134},
{"m":"883","x":0,"y":0},{"m":"883","x":3,"y":-4},{"m":"883","x":6,"y":-11},{"m":"883","x":9,"y":-16},{"m":"883","x":12,"y":-24},{"m":"883","x":15,"y":-16},{"m":"883","x":18,"y":-21},{"m":"883","x":21,"y":-31},{"m":"883","x":24,"y":-38},{"m":"883","x":27,"y":-46},{"m":"883","x":30,"y":-36},{"m":"883","x":33,"y":-44},{"m":"883","x":36,"y":-51},{"m":"883","x":39,"y":-46},{"m":"883","x":42,"y":-41},{"m":"883","x":45,"y":-46},{"m":"883","x":48,"y":-54},{"m":"883","x":51,"y":-48},{"m":"883","x":54,"y":-56},{"m":"883","x":57,"y":-64},{"m":"883","x":60,"y":-56},{"m":"883","x":63,"y":-51},{"m":"883","x":66,"y":-36},{"m":"883","x":69,"y":-24},{"m":"883","x":72,"y":-34},{"m":"883","x":75,"y":-46},{"m":"883","x":78,"y":-56},{"m":"883","x":81,"y":-64},{"m":"883","x":84,"y":-61},{"m":"883","x":87,"y":-66},{"m":"883","x":90,"y":-61},{"m":"883","x":93,"y":-68},{"m":"883","x":96,"y":-66},{"m":"883","x":99,"y":-76},{"m":"883","x":102,"y":-86},{"m":"883","x":105,"y":-96},{"m":"883","x":108,"y":-106},{"m":"883","x":111,"y":-114},{"m":"883","x":114,"y":-101},{"m":"883","x":117,"y":-86},{"m":"883","x":120,"y":-71},{"m":"883","x":123,"y":-56},{"m":"883","x":126,"y":-54},{"m":"883","x":129,"y":-61},{"m":"883","x":132,"y":-66},{"m":"883","x":135,"y":-58},{"m":"883","x":138,"y":-66},{"m":"883","x":141,"y":-76},{"m":"883","x":144,"y":-86},{"m":"883","x":147,"y":-96},{"m":"883","x":150,"y":-101},{"m":"883","x":153,"y":-111},{"m":"883","x":156,"y":-116},{"m":"883","x":159,"y":-126},{"m":"883","x":162,"y":-131},{"m":"883","x":165,"y":-141},{"m":"883","x":168,"y":-146},{"m":"883","x":171,"y":-156},{"m":"883","x":174,"y":-166},{"m":"883","x":177,"y":-174},{"m":"883","x":180,"y":-181},{"m":"883","x":183,"y":-191},{"m":"883","x":186,"y":-201},{"m":"883","x":189,"y":-208},{"m":"883","x":192,"y":-216},{"m":"883","x":195,"y":-221},{"m":"883","x":198,"y":-226},{"m":"883","x":201,"y":-231},{"m":"883","x":204,"y":-226},{"m":"883","x":207,"y":-234},{"m":"883","x":210,"y":-216},{"m":"883","x":213,"y":-196},{"m":"883","x":216,"y":-184},{"m":"883","x":219,"y":-191},{"m":"883","x":222,"y":-201},{"m":"883","x":225,"y":-211},{"m":"883","x":228,"y":-208},{"m":"883","x":231,"y":-216},{"m":"883","x":234,"y":-221},{"m":"883","x":237,"y":-226},{"m":"883","x":240,"y":-236},{"m":"883","x":243,"y":-241},{"m":"883","x":246,"y":-226},{"m":"883","x":249,"y":-216},
{"m":"885","x":0,"y":0},{"m":"885","x":3,"y":-6},{"m":"885","x":6,"y":-11},{"m":"885","x":9,"y":-6},{"m":"885","x":12,"y":-12},{"m":"885","x":15,"y":-1},{"m":"885","x":18,"y":9},{"m":"885","x":21,"y":24},{"m":"885","x":24,"y":39},{"m":"885","x":27,"y":44},{"m":"885","x":30,"y":34},{"m":"885","x":33,"y":39},{"m":"885","x":36,"y":49},{"m":"885","x":39,"y":64},{"m":"885","x":42,"y":84},{"m":"885","x":45,"y":104},{"m":"885","x":48,"y":119},{"m":"885","x":51,"y":134},{"m":"885","x":54,"y":149},{"m":"885","x":57,"y":164},{"m":"885","x":60,"y":176},{"m":"885","x":63,"y":184},{"m":"885","x":66,"y":174},{"m":"885","x":69,"y":162},{"m":"885","x":72,"y":169},{"m":"885","x":75,"y":176},{"m":"885","x":78,"y":164},{"m":"885","x":81,"y":159},{"m":"885","x":84,"y":169},{"m":"885","x":87,"y":162},{"m":"885","x":90,"y":154},{"m":"885","x":93,"y":149},{"m":"885","x":96,"y":152},{"m":"885","x":99,"y":146},{"m":"885","x":102,"y":142},{"m":"885","x":105,"y":139},{"m":"885","x":108,"y":144},{"m":"885","x":111,"y":134},{"m":"885","x":114,"y":132},{"m":"885","x":117,"y":136},{"m":"885","x":120,"y":129},{"m":"885","x":123,"y":134},{"m":"885","x":126,"y":129},{"m":"885","x":129,"y":126},{"m":"885","x":132,"y":124},{"m":"885","x":135,"y":119},{"m":"885","x":138,"y":129},{"m":"885","x":141,"y":139},{"m":"885","x":144,"y":149},{"m":"885","x":147,"y":134},{"m":"885","x":150,"y":124},{"m":"885","x":153,"y":119},{"m":"885","x":156,"y":129},{"m":"885","x":159,"y":139},{"m":"885","x":162,"y":149},{"m":"885","x":165,"y":159},{"m":"885","x":168,"y":174},{"m":"885","x":171,"y":186},{"m":"885","x":174,"y":199},{"m":"885","x":177,"y":209},{"m":"885","x":180,"y":199},{"m":"885","x":183,"y":184},{"m":"885","x":186,"y":189},{"m":"885","x":189,"y":184},{"m":"885","x":192,"y":176},{"m":"885","x":195,"y":189},{"m":"885","x":198,"y":199},{"m":"885","x":201,"y":184},{"m":"885","x":204,"y":174},{"m":"885","x":207,"y":179},{"m":"885","x":210,"y":189},{"m":"885","x":213,"y":184},{"m":"885","x":216,"y":194},{"m":"885","x":219,"y":209},{"m":"885","x":222,"y":219},{"m":"885","x":225,"y":229},{"m":"885","x":228,"y":224},{"m":"885","x":231,"y":234},{"m":"885","x":234,"y":239},{"m":"885","x":237,"y":249},{"m":"885","x":240,"y":254},{"m":"885","x":243,"y":264},{"m":"885","x":250,"y":285},{"m":"885","x":258,"y":300},{"m":"885","x":266,"y":292},{"m":"885","x":274,"y":276},{"m":"885","x":280,"y":264},{"m":"885","x":284,"y":256},{"m":"885","x":288,"y":248},{"m":"885","x":292,"y":240},{"m":"885","x":295,"y":232},{"m":"885","x":297,"y":229},{"m":"885","x":300,"y":236},{"m":"885","x":303,"y":244},
{"m":"886","x":0,"y":0},{"m":"886","x":3,"y":-11},{"m":"886","x":6,"y":4},{"m":"886","x":9,"y":-6},{"m":"886","x":12,"y":-21},{"m":"886","x":15,"y":-36},{"m":"886","x":18,"y":-56},{"m":"886","x":21,"y":-76},{"m":"886","x":24,"y":-61},{"m":"886","x":27,"y":-36},{"m":"886","x":30,"y":-6},{"m":"886","x":33,"y":29},{"m":"886","x":36,"y":64},{"m":"886","x":39,"y":59},{"m":"886","x":42,"y":44},{"m":"886","x":45,"y":24},{"m":"886","x":48,"y":-6},{"m":"886","x":51,"y":-16},{"m":"886","x":54,"y":-6},{"m":"886","x":57,"y":24},{"m":"886","x":60,"y":44},{"m":"886","x":63,"y":49},{"m":"886","x":66,"y":59},{"m":"886","x":69,"y":74},{"m":"886","x":72,"y":89},{"m":"886","x":75,"y":79},{"m":"886","x":78,"y":69},{"m":"886","x":81,"y":54},{"m":"886","x":84,"y":39},{"m":"886","x":87,"y":24},{"m":"886","x":90,"y":4},{"m":"886","x":93,"y":-11},{"m":"886","x":96,"y":-26},{"m":"886","x":99,"y":-41},{"m":"886","x":102,"y":-56},{"m":"886","x":105,"y":-71},{"m":"886","x":108,"y":-86},{"m":"886","x":111,"y":-101},{"m":"886","x":114,"y":-121},{"m":"886","x":117,"y":-116},{"m":"886","x":120,"y":-126},{"m":"886","x":123,"y":-136},{"m":"886","x":126,"y":-151},{"m":"886","x":129,"y":-166},{"m":"886","x":132,"y":-181},{"m":"886","x":135,"y":-196},{"m":"886","x":138,"y":-206},{"m":"886","x":141,"y":-216},{"m":"886","x":144,"y":-236},{"m":"886","x":147,"y":-258},{"m":"886","x":150,"y":-246},{"m":"886","x":153,"y":-216},{"m":"886","x":156,"y":-176},{"m":"886","x":159,"y":-136},{"m":"886","x":162,"y":-96},{"m":"886","x":165,"y":-56},{"m":"886","x":168,"y":-16},{"m":"886","x":171,"y":12},{"m":"886","x":174,"y":-1},{"m":"886","x":177,"y":-16},{"m":"886","x":180,"y":-31},{"m":"886","x":183,"y":-51},{"m":"886","x":186,"y":-71},{"m":"886","x":189,"y":-91},{"m":"886","x":192,"y":-106},{"m":"886","x":195,"y":-121},{"m":"886","x":198,"y":-126},{"m":"886","x":201,"y":-136},{"m":"886","x":204,"y":-151},{"m":"886","x":207,"y":-166},{"m":"886","x":210,"y":-181},{"m":"886","x":213,"y":-196},{"m":"886","x":216,"y":-216},{"m":"886","x":219,"y":-226},{"m":"886","x":222,"y":-231},{"m":"886","x":225,"y":-221},{"m":"886","x":228,"y":-211},{"m":"886","x":231,"y":-191},{"m":"886","x":234,"y":-201},{"m":"886","x":237,"y":-216},{"m":"886","x":240,"y":-226},{"m":"886","x":243,"y":-216},{"m":"886","x":246,"y":-206},{"m":"886","x":249,"y":-211},{"m":"886","x":252,"y":-226},{"m":"886","x":255,"y":-244},
{"m":"887","x":0,"y":0},{"m":"887","x":3,"y":-16},{"m":"887","x":6,"y":-24},{"m":"887","x":9,"y":-28},{"m":"887","x":12,"y":-36},{"m":"887","x":15,"y":-31},{"m":"887","x":18,"y":-41},{"m":"887","x":21,"y":-51},{"m":"887","x":24,"y":-61},{"m":"887","x":27,"y":-71},{"m":"887","x":30,"y":-81},{"m":"887","x":33,"y":-91},{"m":"887","x":36,"y":-96},{"m":"887","x":39,"y":-101},{"m":"887","x":42,"y":-96},{"m":"887","x":45,"y":-81},{"m":"887","x":48,"y":-66},{"m":"887","x":51,"y":-46},{"m":"887","x":54,"y":-26},{"m":"887","x":57,"y":-11},{"m":"887","x":60,"y":-16},{"m":"887","x":63,"y":-31},{"m":"887","x":66,"y":-41},{"m":"887","x":69,"y":-56},{"m":"887","x":72,"y":-71},{"m":"887","x":75,"y":-76},{"m":"887","x":78,"y":-81},{"m":"887","x":81,"y":-66},{"m":"887","x":84,"y":-36},{"m":"887","x":87,"y":4},{"m":"887","x":90,"y":39},{"m":"887","x":93,"y":69},{"m":"887","x":96,"y":94},{"m":"887","x":99,"y":119},{"m":"887","x":102,"y":139},{"m":"887","x":105,"y":159},{"m":"887","x":108,"y":174},{"m":"887","x":111,"y":186},{"m":"887","x":114,"y":174},{"m":"887","x":117,"y":184},{"m":"887","x":120,"y":199},{"m":"887","x":123,"y":209},{"m":"887","x":126,"y":202},{"m":"887","x":129,"y":214},{"m":"887","x":132,"y":219},{"m":"887","x":135,"y":209},{"m":"887","x":138,"y":219},{"m":"887","x":141,"y":229},{"m":"887","x":144,"y":244},{"m":"887","x":147,"y":256},{"m":"887","x":150,"y":244},{"m":"887","x":153,"y":234},{"m":"887","x":156,"y":224},{"m":"887","x":159,"y":214},{"m":"887","x":162,"y":204},{"m":"887","x":165,"y":209},{"m":"887","x":168,"y":219},{"m":"887","x":171,"y":209},{"m":"887","x":174,"y":199},{"m":"887","x":177,"y":196},{"m":"887","x":180,"y":204},{"m":"887","x":183,"y":209},{"m":"887","x":186,"y":199},{"m":"887","x":189,"y":209},{"m":"887","x":192,"y":204},{"m":"887","x":195,"y":194},{"m":"887","x":198,"y":189},{"m":"887","x":201,"y":179},{"m":"887","x":204,"y":169},{"m":"887","x":207,"y":162},{"m":"887","x":210,"y":179},{"m":"887","x":213,"y":184},{"m":"887","x":216,"y":174},{"m":"887","x":219,"y":164},{"m":"887","x":222,"y":159},{"m":"887","x":225,"y":149},{"m":"887","x":228,"y":134},{"m":"887","x":231,"y":119},{"m":"887","x":234,"y":104},{"m":"887","x":237,"y":99},{"m":"887","x":240,"y":106},{"m":"887","x":243,"y":109},{"m":"887","x":246,"y":99},{"m":"887","x":249,"y":89},{"m":"887","x":252,"y":79},{"m":"887","x":255,"y":74},{"m":"887","x":258,"y":89},{"m":"887","x":261,"y":109},{"m":"887","x":264,"y":134},{"m":"887","x":267,"y":159},{"m":"887","x":270,"y":184},{"m":"887","x":273,"y":209},{"m":"887","x":276,"y":226},{"m":"887","x":279,"y":214},{"m":"887","x":282,"y":209},{"m":"887","x":285,"y":199},{"m":"887","x":288,"y":189},{"m":"887","x":291,"y":179},{"m":"887","x":294,"y":164},{"m":"887","x":297,"y":154},{"m":"887","x":300,"y":144},{"m":"887","x":303,"y":134},{"m":"887","x":306,"y":124},{"m":"887","x":309,"y":112},{"m":"887","x":312,"y":99},{"m":"887","x":315,"y":89},{"m":"887","x":318,"y":79},{"m":"887","x":321,"y":89},{"m":"887","x":324,"y":94},
{"m":"888","x":0,"y":0},{"m":"888","x":3,"y":-8},{"m":"888","x":6,"y":-16},{"m":"888","x":9,"y":-24},{"m":"888","x":12,"y":-31},{"m":"888","x":15,"y":-41},{"m":"888","x":18,"y":-31},{"m":"888","x":21,"y":-46},{"m":"888","x":24,"y":-54},{"m":"888","x":27,"y":-61},{"m":"888","x":30,"y":-66},{"m":"888","x":33,"y":-71},{"m":"888","x":36,"y":-64},{"m":"888","x":39,"y":-56},{"m":"888","x":42,"y":-68},{"m":"888","x":45,"y":-76},{"m":"888","x":48,"y":-86},{"m":"888","x":51,"y":-76},{"m":"888","x":54,"y":-66},{"m":"888","x":57,"y":-54},{"m":"888","x":60,"y":-58},{"m":"888","x":63,"y":-64},{"m":"888","x":66,"y":-71},{"m":"888","x":69,"y":-81},{"m":"888","x":72,"y":-91},{"m":"888","x":75,"y":-96},{"m":"888","x":78,"y":-111},{"m":"888","x":81,"y":-121},{"m":"888","x":84,"y":-131},{"m":"888","x":87,"y":-141},{"m":"888","x":90,"y":-156},{"m":"888","x":93,"y":-171},{"m":"888","x":96,"y":-161},{"m":"888","x":99,"y":-151},{"m":"888","x":102,"y":-141},{"m":"888","x":105,"y":-134},{"m":"888","x":108,"y":-141},{"m":"888","x":111,"y":-151},{"m":"888","x":114,"y":-161},{"m":"888","x":117,"y":-156},{"m":"888","x":120,"y":-166},{"m":"888","x":123,"y":-181},{"m":"888","x":126,"y":-194},{"m":"888","x":129,"y":-181},{"m":"888","x":132,"y":-146},{"m":"888","x":135,"y":-121},{"m":"888","x":138,"y":-91},{"m":"888","x":141,"y":-66},{"m":"888","x":144,"y":-46},{"m":"888","x":147,"y":-26},{"m":"888","x":150,"y":-6},{"m":"888","x":153,"y":9},{"m":"888","x":156,"y":29},{"m":"888","x":159,"y":49},{"m":"888","x":162,"y":64},{"m":"888","x":165,"y":54},{"m":"888","x":168,"y":39},{"m":"888","x":171,"y":49},{"m":"888","x":174,"y":64},{"m":"888","x":177,"y":74},{"m":"888","x":180,"y":79},{"m":"888","x":183,"y":69},{"m":"888","x":186,"y":54},{"m":"888","x":189,"y":69},{"m":"888","x":192,"y":74},{"m":"888","x":195,"y":59},{"m":"888","x":198,"y":49},{"m":"888","x":201,"y":39},{"m":"888","x":204,"y":34},{"m":"888","x":207,"y":29},{"m":"888","x":210,"y":24},{"m":"888","x":213,"y":44},{"m":"888","x":216,"y":64},{"m":"888","x":219,"y":79},{"m":"888","x":222,"y":89},{"m":"888","x":225,"y":96},{"m":"888","x":228,"y":94},{"m":"888","x":231,"y":89},{"m":"888","x":234,"y":79},{"m":"888","x":237,"y":69},{"m":"888","x":240,"y":59},{"m":"888","x":243,"y":49},{"m":"888","x":246,"y":44},{"m":"888","x":249,"y":34},{"m":"888","x":252,"y":24},{"m":"888","x":255,"y":14},{"m":"888","x":258,"y":-1},{"m":"888","x":261,"y":-11},{"m":"888","x":264,"y":-8},{"m":"888","x":267,"y":4},{"m":"888","x":270,"y":24},{"m":"888","x":273,"y":49},{"m":"888","x":276,"y":62},{"m":"888","x":279,"y":59},{"m":"888","x":282,"y":52},{"m":"888","x":285,"y":49},{"m":"888","x":288,"y":39}
]},
"facet":{"field":"m","type":"nominal","header":{"labels":false,"labelExpr":"''","labelFontSize":0,"labelPadding":0,"title":null}},
"spec":{
"width":121,"height":175,
"layer":[
{"transform":[{"filter":"datum.x == 0"}],"mark":{"type":"rect","fill":"#e4e4e4","stroke":"#c6c6c6","strokeWidth":1},
 "encoding":{"x":{"datum":-153,"type":"quantitative","scale":{"domain":[0,363],"nice":false,"zero":false},"axis":null},"x2":{"datum":455},"y":{"datum":-398,"type":"quantitative","scale":{"domain":[-261,264],"nice":false,"zero":false},"axis":null},"y2":{"datum":361}}},
{"transform":[{"filter":"datum.x == 0"}],"mark":{"type":"rect","fill":null,"stroke":"#f6f6f6","strokeWidth":1},
 "encoding":{"x":{"datum":-150},"x2":{"datum":452},"y":{"datum":-395},"y2":{"datum":358}}},
{"transform":[{"filter":"datum.x == 0"}],"mark":{"type":"rule","color":"#f4f4c6","strokeWidth":3},"encoding":{"x":{"datum":157},"y":{"datum":224},"x2":{"datum":-140},"y2":{"datum":356}}},
{"transform":[{"filter":"datum.x == 0"}],"mark":{"type":"rule","color":"#f4f4c6","strokeWidth":3},"encoding":{"x":{"datum":157},"y":{"datum":224},"x2":{"datum":-145},"y2":{"datum":269}}},
{"transform":[{"filter":"datum.x == 0"}],"mark":{"type":"rule","color":"#f4f4c6","strokeWidth":3},"encoding":{"x":{"datum":157},"y":{"datum":224},"x2":{"datum":-145},"y2":{"datum":199}}},
{"transform":[{"filter":"datum.x == 0"}],"mark":{"type":"rule","color":"#f4f4c6","strokeWidth":3},"encoding":{"x":{"datum":157},"y":{"datum":224},"x2":{"datum":-145},"y2":{"datum":124}}},
{"transform":[{"filter":"datum.x == 0"}],"mark":{"type":"rule","color":"#f4f4c6","strokeWidth":3},"encoding":{"x":{"datum":157},"y":{"datum":224},"x2":{"datum":-138},"y2":{"datum":39}}},
{"transform":[{"filter":"datum.x == 0"}],"mark":{"type":"rule","color":"#f4f4c6","strokeWidth":3},"encoding":{"x":{"datum":157},"y":{"datum":224},"x2":{"datum":-63},"y2":{"datum":9}}},
{"transform":[{"filter":"datum.x == 0"}],"mark":{"type":"rule","color":"#f4f4c6","strokeWidth":3},"encoding":{"x":{"datum":157},"y":{"datum":224},"x2":{"datum":-13},"y2":{"datum":356}}},
{"transform":[{"filter":"datum.x == 0"}],"mark":{"type":"rule","color":"#f4f4c6","strokeWidth":3},"encoding":{"x":{"datum":157},"y":{"datum":224},"x2":{"datum":92},"y2":{"datum":356}}},
{"transform":[{"filter":"datum.x == 0"}],"mark":{"type":"rule","color":"#f4f4c6","strokeWidth":3},"encoding":{"x":{"datum":157},"y":{"datum":224},"x2":{"datum":237},"y2":{"datum":356}}},
{"transform":[{"filter":"datum.x == 0"}],"mark":{"type":"rule","color":"#f4f4c6","strokeWidth":3},"encoding":{"x":{"datum":157},"y":{"datum":224},"x2":{"datum":330},"y2":{"datum":350}}},
{"transform":[{"filter":"datum.x == 0"}],"mark":{"type":"rule","color":"#f4f4c6","strokeWidth":3},"encoding":{"x":{"datum":157},"y":{"datum":224},"x2":{"datum":449},"y2":{"datum":334}}},
{"transform":[{"filter":"datum.x == 0"}],"mark":{"type":"rule","color":"#f4f4c6","strokeWidth":3},"encoding":{"x":{"datum":157},"y":{"datum":224},"x2":{"datum":449},"y2":{"datum":264}}},
{"transform":[{"filter":"datum.x == 0"}],"mark":{"type":"rule","color":"#f4f4c6","strokeWidth":3},"encoding":{"x":{"datum":157},"y":{"datum":224},"x2":{"datum":449},"y2":{"datum":199}}},
{"transform":[{"filter":"datum.x == 0"}],"mark":{"type":"rule","color":"#f4f4c6","strokeWidth":3},"encoding":{"x":{"datum":157},"y":{"datum":224},"x2":{"datum":449},"y2":{"datum":129}}},
{"transform":[{"filter":"datum.x == 0"}],"mark":{"type":"rule","color":"#f4f4c6","strokeWidth":3},"encoding":{"x":{"datum":157},"y":{"datum":224},"x2":{"datum":427},"y2":{"datum":44}}},
{"transform":[{"filter":"datum.x == 0"}],"mark":{"type":"rule","color":"#f4f4c6","strokeWidth":3},"encoding":{"x":{"datum":157},"y":{"datum":224},"x2":{"datum":377},"y2":{"datum":-6}}},
{"transform":[{"filter":"datum.x == 0"}],"mark":{"type":"rect","fill":"#ececea","cornerRadius":14},
 "encoding":{"x":{"datum":35},"x2":{"datum":290},"y":{"datum":230},"y2":{"datum":330}}},
{"transform":[{"filter":"datum.x == 0"}],"mark":{"type":"rect","fill":"#d9e9d5","cornerRadius":3},
 "encoding":{"x":{"datum":0},"x2":{"datum":317},"y":{"datum":0},"y2":{"datum":252}}},
{"transform":[{"filter":"datum.x == 0"}],"mark":{"type":"rect","fill":"#d9e9d5","cornerRadius":3},
 "encoding":{"x":{"datum":52},"x2":{"datum":267},"y":{"datum":-51},"y2":{"datum":2}}},
{"transform":[{"filter":"datum.x == 0"}],"mark":{"type":"rule","color":"#e5f0e2","strokeWidth":2},"encoding":{"x":{"datum":5},"x2":{"datum":312},"y":{"datum":199}}},
{"transform":[{"filter":"datum.x == 0"}],"mark":{"type":"rule","color":"#e5f0e2","strokeWidth":2},"encoding":{"x":{"datum":5},"x2":{"datum":312},"y":{"datum":139}}},
{"transform":[{"filter":"datum.x == 0"}],"mark":{"type":"rule","color":"#e5f0e2","strokeWidth":2},"encoding":{"x":{"datum":5},"x2":{"datum":312},"y":{"datum":89}}},
{"transform":[{"filter":"datum.x == 0"}],"mark":{"type":"rule","color":"#e5f0e2","strokeWidth":2},"encoding":{"x":{"datum":5},"x2":{"datum":312},"y":{"datum":34}}},
{"transform":[{"filter":"datum.x == 0"}],"mark":{"type":"rect","fill":"#dbead7","stroke":"#eef5ec","strokeWidth":1,"cornerRadius":8},
 "encoding":{"x":{"datum":-25},"x2":{"datum":282},"y":{"datum":-321},"y2":{"datum":-196}}},
{"transform":[{"filter":"datum.x == 0"}],"mark":{"type":"rect","fill":null,"stroke":"#eaf3e8","strokeWidth":1.5,"cornerRadius":6},
 "encoding":{"x":{"datum":25},"x2":{"datum":232},"y":{"datum":-290},"y2":{"datum":-226}}},
{"transform":[{"filter":"datum.x == 0"}],"mark":{"type":"point","filled":true,"fill":"#f2f2f0","stroke":"#d6d6d6","strokeWidth":0.5,"size":150,"shape":"circle"},
 "encoding":{"x":{"datum":307},"y":{"datum":-341}}},
{"transform":[{"filter":"datum.x == 0"}],"mark":{"type":"text","align":"left","baseline":"middle","fontSize":9,"font":"DejaVu Sans","color":"#111111","text":"(C) Daikoku Denki."},
 "encoding":{"x":{"datum":-141},"y":{"datum":-354}}},
{"transform":[{"filter":"datum.x == 0"}],"mark":{"type":"rule","color":"#555555","strokeWidth":1},
 "encoding":{"x":{"datum":0},"y":{"datum":-261},"y2":{"datum":264}}},
{"transform":[{"filter":"datum.x == 0"}],"mark":{"type":"rule","color":"#555555","strokeWidth":1},
 "encoding":{"y":{"datum":0},"x":{"datum":-10},"x2":{"datum":364}}},
{"mark":{"type":"line","color":"#0a7a0a","strokeWidth":1.1,"clip":true},
 "encoding":{"x":{"field":"x","type":"quantitative"},"y":{"field":"y","type":"quantitative"}}},
{"transform":[{"filter":"datum.x == 0"},{"calculate":"'台番:' + datum.m","as":"lab"}],"mark":{"type":"text","align":"center","baseline":"middle","fontSize":12.5,"font":"Noto Sans CJK JP","color":"#2d6d9c"},
 "encoding":{"x":{"datum":150},"y":{"datum":391},"text":{"field":"lab"}}}
]
},
"config":{"view":{"stroke":null},"header":{"labels":false,"labelFontSize":0,"labelPadding":0},"headerFacet":{"labels":false,"labelFontSize":0,"labelPadding":0}}
}
